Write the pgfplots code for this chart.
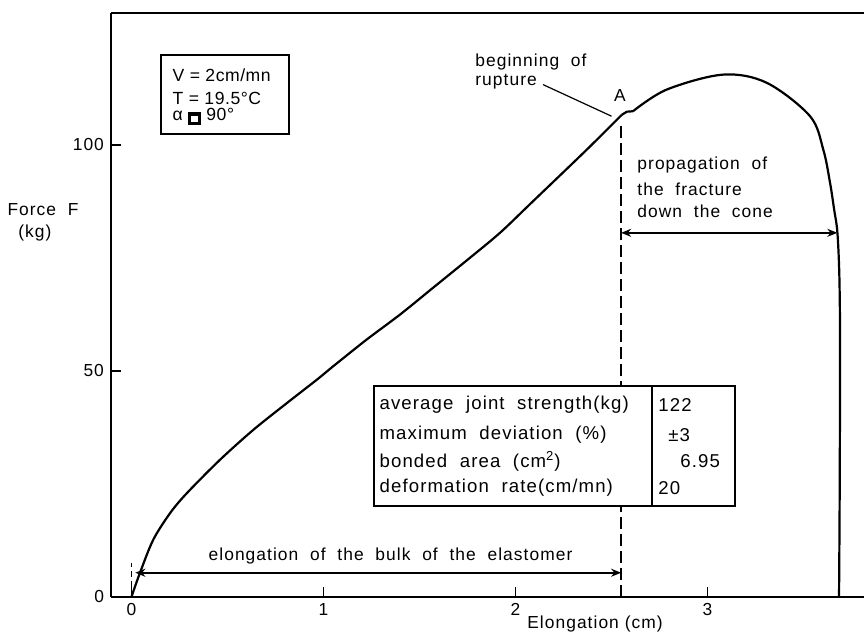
\documentclass[border=0pt]{standalone}
\usepackage{pgfplots}
\pgfplotsset{compat=1.18}
\usepackage{fontspec}
\setmainfont[LetterSpace=6]{Liberation Sans}
\newfontfamily\boxfont[LetterSpace=3]{Liberation Sans}
\usetikzlibrary{arrows.meta}
\newcommand{\af}{\fontsize{8.7}{10.5}\selectfont}
\newcommand{\tf}{\fontsize{9.3}{11}\selectfont}
\newcommand{\bxf}{\boxfont\fontsize{8.8}{10.5}\selectfont}
\newcommand{\sq}{{\setlength{\fboxsep}{1.1pt}\setlength{\fboxrule}{1.6pt}\raisebox{0.3pt}{\fbox{\rule{0pt}{1pt}\rule{1pt}{0pt}}}}}
\begin{document}
\begin{tikzpicture}
\begin{axis}[name=ax, scale only axis, width=376.5pt, height=292pt,
  xmin=-0.107, xmax=3.815, ymin=0, ymax=129.2,
  axis lines*=left, axis line style={line width=1pt, black},
  xtick={0,1,2,3}, ytick={0,50,100},
  tick align=inside, major tick length=5pt,
  tick style={line width=0.9pt, black},
  tick label style={font=\fontsize{8.7}{10}\selectfont},
  /pgf/number format/assume math mode=true,
  clip=false]
\draw[line width=1pt] (rel axis cs:0,1) -- (rel axis cs:1,1);
% curve up to point A
\addplot[black, line width=1.1pt, smooth, tension=0.5] coordinates {
 (0,0) (0.044,5.3) (0.113,12.6) (0.201,18.5) (0.288,22.9) (0.461,30.3)
 (0.634,36.9) (0.808,42.8) (0.965,48.0) (1.051,51.0) (1.225,56.9) (1.398,62.4)
 (1.572,68.4) (1.746,74.4) (1.919,80.5) (2.084,87.2) (2.371,98.9) (2.553,106.6)};
% after A
\addplot[black, line width=1.1pt] coordinates {(2.553,106.6) (2.58,107.3) (2.612,107.4)};
\addplot[black, line width=1.1pt, smooth, tension=0.55] coordinates {
 (2.612,107.4) (2.788,112.2) (3.081,115.5) (3.308,113.7) (3.534,106.3)
 (3.603,98.9) (3.638,91.6) (3.66,85.5) (3.676,80.8) (3.686,72) (3.69,60) (3.69,45) (3.688,20) (3.685,0)};
% dashed lines
\addplot[black, line width=0.8pt, dash pattern=on 6pt off 2.5pt] coordinates {(2.55,0) (2.55,104.5)};
\addplot[black, line width=0.6pt, dash pattern=on 3pt off 2pt] coordinates {(0,0) (0,7.5)};
% arrows
\draw[line width=0.9pt, {Stealth[length=5pt,width=4pt]}-{Stealth[length=5pt,width=4pt]}] (axis cs:0.02,5.3) -- (axis cs:2.55,5.3);
\draw[line width=0.9pt, {Stealth[length=5pt,width=4pt]}-{Stealth[length=5pt,width=4pt]}] (axis cs:2.55,80.5) -- (axis cs:3.676,80.5);
% leader line
\draw[line width=0.6pt] (axis cs:2.143,113.3) -- (axis cs:2.50,106.3);
% texts
\node[font=\af] at (axis cs:2.544,110.8) {A};
\node[font=\af, anchor=west, inner sep=0pt] at (axis cs:1.789,118.4) {beginning\ \ of};
\node[font=\af, anchor=west, inner sep=0pt] at (axis cs:1.789,114.0) {rupture};
\node[font=\af, anchor=west, inner sep=0pt] at (axis cs:2.633,95.6) {propagation\ \ of};
\node[font=\af, anchor=west, inner sep=0pt] at (axis cs:2.633,90.2) {the\ \ fracture};
\node[font=\af, anchor=west, inner sep=0pt] at (axis cs:2.633,85.3) {down\ \ the\ \ cone};
\node[font=\af] at (axis cs:1.349,8.9) {elongation\ \ of\ \ the\ \ bulk\ \ of\ \ the\ \ elastomer};
% parameter box
\draw[line width=0.9pt] (axis cs:0.152,102.4) rectangle (axis cs:0.822,119.9);
\node[font=\bxf, anchor=west, inner sep=0pt] at (axis cs:0.212,115.3) {V = 2cm/mn};
\node[font=\bxf, anchor=west, inner sep=0pt] at (axis cs:0.212,110.2) {T = 19.5°C};
\node[font=\bxf, anchor=west, inner sep=0pt] at (axis cs:0.212,106.2) {α \sq\ 90°};
% table
\draw[line width=0.9pt, fill=white] (axis cs:1.263,20.1) rectangle (axis cs:3.143,46.6);
\draw[line width=0.9pt] (axis cs:2.709,20.1) -- (axis cs:2.709,46.6);
\node[font=\tf, anchor=west, inner sep=0pt] at (axis cs:1.29,42.4) {average\ \ joint\ \ strength(kg)};
\node[font=\tf, anchor=west, inner sep=0pt] at (axis cs:1.29,35.8) {maximum\ \ deviation\ \ (\%)};
\node[font=\tf, anchor=west, inner sep=0pt] at (axis cs:1.29,29.9) {bonded\ \ area\ \ (cm\textsuperscript{2})};
\node[font=\tf, anchor=west, inner sep=0pt] at (axis cs:1.29,24.1) {deformation\ \ rate(cm/mn)};
\node[font=\tf, anchor=west, inner sep=0pt] at (axis cs:2.742,42.4) {122};
\node[font=\tf, anchor=west, inner sep=0pt] at (axis cs:2.794,35.8) {±3};
\node[font=\tf, anchor=west, inner sep=0pt] at (axis cs:2.857,29.9) {6.95};
\node[font=\tf, anchor=west, inner sep=0pt] at (axis cs:2.742,24.1) {20};
% axis labels
\node[font=\af] at (axis cs:2.414,-6.0) {Elongation (cm)};
\node[font=\af] at (axis cs:-0.461,85.6) {Force\ \ F};
\node[font=\af] at (axis cs:-0.503,80.5) {(kg)};
\end{axis}
\pgfresetboundingbox
\path ([xshift=-55.5pt,yshift=-20.15pt]ax.south west) rectangle ([yshift=6.35pt]ax.north east);
\end{tikzpicture}
\end{document}
